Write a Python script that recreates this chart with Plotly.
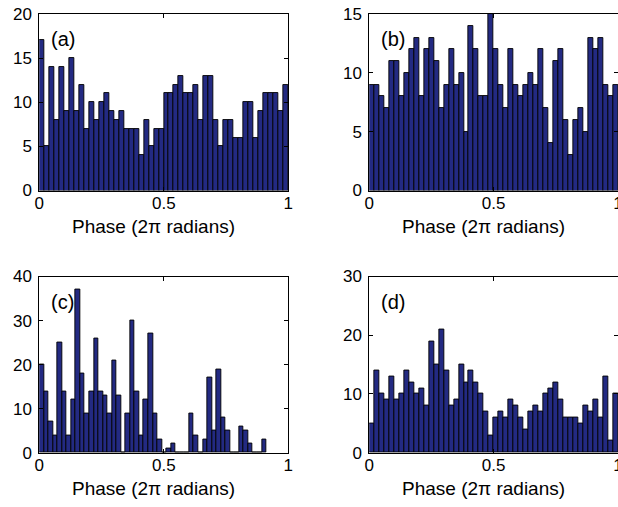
import plotly.graph_objects as go

# ---- data (counts per bin, 50 bins each) ----
counts_a = [17, 5, 14, 8, 14, 9, 15, 9, 12, 7, 10, 8, 10, 11, 9, 8, 9, 7, 7, 7,
            4, 8, 5, 7, 7, 11, 11, 12, 13, 11, 11, 12, 8, 13, 13, 8, 5, 8, 8, 6,
            6, 10, 10, 6, 9, 11, 11, 11, 9, 12]
counts_b = [9, 9, 8, 7, 11, 11, 8, 10, 12, 13, 8, 12, 13, 11, 7, 9, 12, 9, 10, 5,
            14, 12, 8, 8, 15, 12, 9, 7, 12, 9, 8, 9, 10, 9, 12, 7, 4, 11, 12, 6,
            3, 6, 7, 5, 13, 12, 13, 9, 8, 9]
counts_c = [20, 14, 7, 4, 25, 14, 4, 12, 37, 18, 9, 14, 26, 14, 13, 9, 21, 13, 0, 9,
            30, 14, 4, 12, 27, 9, 3, 0, 1, 2, 0, 0, 0, 9, 4, 0, 3, 17, 5, 19,
            8, 5, 0, 0, 6, 5, 2, 0, 0, 3]
counts_d = [5, 14, 10, 9, 13, 9, 10, 14, 12, 10, 11, 8, 19, 15, 21, 14, 8, 9, 15, 12,
            14, 12, 10, 7, 3, 6, 7, 6, 9, 8, 6, 4, 7, 8, 7, 10, 11, 12, 9, 6,
            6, 6, 5, 8, 7, 9, 6, 13, 2, 10]

# histogram bin ranges (data min..max of each set)
range_a = (0.0, 1.0)
range_b = (0.0, 1.0)
range_c = (0.0, 0.912)
range_d = (0.0, 1.0)

labels = ["(a)", "(b)", "(c)", "(d)"]
y_ranges = [[0, 20], [0, 15], [0, 40], [0, 30]]
y_ticks = [[0, 5, 10, 15, 20], [0, 5, 10, 15], [0, 10, 20, 30, 40], [0, 10, 20, 30]]
x_ticks = [0, 0.5, 1]
x_ticktext = ["0", "0.5", "1"]
x_title = "Phase (2π radians)"

W, H = 618, 507
BAR_COLOR = "#232a82"
FONT = "Liberation Sans, Arial, sans-serif"

# plot-area boxes in pixels: (left, right, top, bottom)
boxes = [(39.3, 288.3, 14.0, 190.5), (369.3, 618.0, 14.0, 190.5),
         (39.3, 288.3, 276.5, 452.7), (369.3, 618.0, 276.5, 452.7)]

fig = go.Figure()
all_counts = [counts_a, counts_b, counts_c, counts_d]
all_ranges = [range_a, range_b, range_c, range_d]
annotations = []
for k in range(4):
    counts = all_counts[k]
    lo, hi = all_ranges[k]
    n = len(counts)
    w = (hi - lo) / n
    centers = [lo + (i + 0.5) * w for i in range(n)]
    sfx = "" if k == 0 else str(k + 1)
    fig.add_trace(go.Bar(
        x=centers, y=counts, width=w,
        marker=dict(color=BAR_COLOR, line=dict(color="black", width=0.9)),
        xaxis="x" + sfx, yaxis="y" + sfx, showlegend=False, hoverinfo="x+y"))
    l, r, t, b = boxes[k]
    axis_common = dict(showline=True, linecolor="black", linewidth=1,
                       mirror="ticks", ticks="inside", ticklen=4, tickwidth=1,
                       tickcolor="black", showgrid=False, zeroline=False,
                       automargin=False, ticklabeloverflow="allow",
                       tickfont=dict(family=FONT, size=17, color="black"))
    fig.update_layout(**{
        "xaxis" + sfx: dict(domain=[l / W, min(r / W, 1.0)], range=[0, 1],
                            tickvals=x_ticks, ticktext=x_ticktext,
                            ticklabelstandoff=-3,
                            anchor="y" + sfx, **axis_common),
        "yaxis" + sfx: dict(domain=[1 - b / H, 1 - t / H], range=y_ranges[k],
                            tickvals=y_ticks[k], anchor="x" + sfx,
                            ticklabelstandoff=3,
                            **axis_common),
    })
    ph = b - t
    pw = r - l
    annotations.append(dict(text=labels[k], xref="x" + sfx + " domain",
                            yref="y" + sfx + " domain", x=10 / pw, y=1 - 25 / ph,
                            xanchor="left", yanchor="middle", showarrow=False,
                            font=dict(family=FONT, size=20, color="black")))
    annotations.append(dict(text=x_title, xref="x" + sfx + " domain",
                            yref="y" + sfx + " domain", x=0.46, y=-36 / ph,
                            xanchor="center", yanchor="middle", showarrow=False,
                            font=dict(family=FONT, size=19, color="black")))

fig.update_layout(width=W, height=H, margin=dict(l=0, r=0, t=0, b=0),
                  paper_bgcolor="white", plot_bgcolor="white",
                  bargap=0, annotations=annotations,
                  font=dict(family=FONT, color="black"))

fig.write_html("out.html")
